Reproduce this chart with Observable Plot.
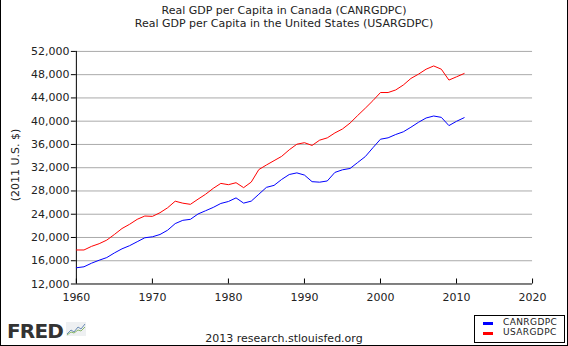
<!DOCTYPE html>
<html>
<head>
<meta charset="utf-8">
<script src="https://cdn.jsdelivr.net/npm/d3@7"></script>
<script src="https://cdn.jsdelivr.net/npm/@observablehq/plot@0.6"></script>
<style>
  html, body { margin: 0; padding: 0; background: #fff; }
  #wrap { position: relative; width: 568px; height: 346px; box-sizing: border-box;
          border-left: 1px solid #000; border-right: 1px solid #000; border-bottom: 1px solid #000;
          font-family: "DejaVu Sans", sans-serif; color: #222; overflow: hidden; }
  #chart { position: absolute; left: -1px; top: 0; }
  .title { position: absolute; left: 0; width: 566px; text-align: center; font-size: 11px; }
  #ylab { position: absolute; left: 14px; top: 165px; transform: translate(-50%, -50%) rotate(-90deg);
          font-size: 11px; white-space: nowrap; }
  #footer { position: absolute; left: 0; width: 566px; top: 332px; text-align: center; font-size: 11px; }
  #fred { position: absolute; left: 6px; top: 319px; font-family: "DejaVu Sans", sans-serif;
          font-weight: bold; font-size: 20px; color: #333; letter-spacing: -0.8px; }
  #icon { position: absolute; left: 65px; top: 322px; }
  #legend { position: absolute; left: 473px; top: 315px; width: 91px; height: 28px; box-sizing: border-box;
            border: 1px solid #000; font-size: 9px; }
  .lg { position: absolute; left: 8px; height: 10px; }
  .lg span.sw { position: absolute; left: 0; top: 4px; width: 10px; height: 3px; }
  .lg span.tx { position: absolute; left: 20px; top: -1px; white-space: nowrap; letter-spacing: 0.4px; }
</style>
</head>
<body>
<div id="wrap">
  <div class="title" style="top:4px">Real GDP per Capita in Canada (CANRGDPC)</div>
  <div class="title" style="top:17px">Real GDP per Capita in the United States (USARGDPC)</div>
  <div id="chart"></div>
  <div id="ylab">(2011 U.S. $)</div>
  <div id="fred">FRED</div>
  <svg id="icon" width="20" height="14" viewBox="0 0 20 14">
    <rect x="0" y="0" width="20" height="14" fill="#eef0f2"/>
    <polyline points="1,12 5,8 8,10 12,5 15,7 19,2" fill="none" stroke="#6a8bb5" stroke-width="1"/>
    <polyline points="1,13 5,10 8,11 12,8 15,9 19,5" fill="none" stroke="#8bb86a" stroke-width="1"/>
  </svg>
  <div id="footer">2013 research.stlouisfed.org</div>
  <div id="legend"></div>
</div>
<script>
const years = d3.range(1960, 2012);
const canada = [
  14790, 14960, 15580, 16090, 16545, 17340, 18050, 18590, 19270, 19950,
  20120, 20515, 21250, 22390, 22950, 23120, 24040, 24600, 25170, 25850,
  26190, 26810, 25910, 26250, 27435, 28620, 28960, 29980, 30830, 31110,
  30730, 29600, 29510, 29720, 31190, 31640, 31870, 32890, 33910, 35430,
  36900, 37140, 37710, 38170, 38960, 39810, 40550, 40890, 40660, 39240,
  39980, 40600
];
const usa = [
  17850, 17850, 18475, 18930, 19550, 20515, 21540, 22270, 23120, 23690,
  23630, 24260, 25110, 26240, 25900, 25700, 26586, 27435, 28450, 29300,
  29080, 29420, 28570, 29530, 31680, 32470, 33210, 33950, 35080, 36040,
  36300, 35830, 36740, 37130, 37980, 38660, 39680, 40980, 42230, 43530,
  44930, 44930, 45370, 46220, 47350, 48090, 48940, 49500, 48940, 47070,
  47630, 48200
];
const seriesNames = ["CANRGDPC", "USARGDPC"];
const seriesColors = ["#0000ff", "#ff0000"];
const yTicks = d3.range(12000, 52001, 4000);
const xTicks = d3.range(1960, 2021, 10);

const data = [
  ...years.map((y, i) => ({year: y, value: canada[i], series: seriesNames[0]})),
  ...years.map((y, i) => ({year: y, value: usa[i], series: seriesNames[1]}))
];

const chart = Plot.plot({
  width: 568,
  height: 346,
  marginLeft: 76,
  marginRight: 35,
  marginTop: 51,
  marginBottom: 62,
  style: {fontFamily: "DejaVu Sans, sans-serif", fontSize: "11px", color: "#222", background: "transparent", overflow: "visible"},
  x: {domain: [1960, 2020]},
  y: {domain: [12000, 52000]},
  color: {domain: seriesNames, range: seriesColors},
  marks: [
    Plot.gridY(yTicks.filter(d => d > 12000), {stroke: "#aaaaaa", strokeOpacity: 1}),
    Plot.axisY({ticks: yTicks, tickFormat: d3.format(","), tickSize: 5, tickPadding: 2, label: null, stroke: "#000"}),
    Plot.axisX({ticks: xTicks, tickFormat: d => String(d), tickSize: -5, tickPadding: 14, label: null, stroke: "#000"}),
    Plot.ruleX([1960], {stroke: "#000"}),
    Plot.ruleY([12000], {stroke: "#000"}),
    Plot.line(data, {x: "year", y: "value", stroke: "series", strokeWidth: 1})
  ]
});
document.getElementById("chart").appendChild(chart);

const legend = document.getElementById("legend");
seriesNames.forEach((name, i) => {
  const row = document.createElement("div");
  row.className = "lg";
  row.style.top = (2 + i * 10) + "px";
  row.innerHTML = `<span class="sw" style="background:${seriesColors[i]}"></span><span class="tx">${name}</span>`;
  legend.appendChild(row);
});
</script>
</body>
</html>
